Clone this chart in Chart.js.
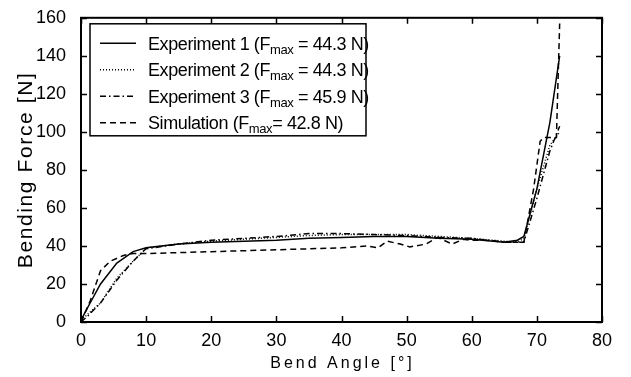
<!DOCTYPE html>
<html>
<head>
<meta charset="utf-8">
<script src="https://cdn.jsdelivr.net/npm/chart.js"></script>
<style>
  html, body { margin: 0; padding: 0; background: #fff; }
  #wrap { position: relative; width: 631px; height: 377px; }
</style>
</head>
<body>
<div id="wrap"><canvas id="myChart" width="631" height="377"></canvas></div>
<script>
// data
const exp1Angle = [0, 1.4, 3, 5.5, 8, 10, 15, 20, 25, 30, 35, 40, 45, 50, 55, 60, 65, 67, 68, 70, 72, 73.5];
const exp1Force = [1, 10, 20, 31, 37, 39, 41, 42, 42.5, 43, 44, 44.5, 45, 45, 44, 43.5, 42, 43, 45, 70, 105, 140];

const exp2Angle = [0, 1, 3, 5.5, 8, 9.5, 10, 15, 20, 30, 35, 40, 45, 50, 55, 60, 65, 67, 68, 70, 72, 73.5];
const exp2Force = [1, 4, 10, 23, 32, 37, 39, 41, 42.5, 44.5, 45.5, 46, 46, 46, 45, 44, 42.5, 42, 44, 70, 93, 100];

const exp3Angle = [0, 1, 3, 5.5, 8, 9.5, 10, 15, 20, 30, 35, 40, 45, 50, 55, 60, 65, 68, 70, 72, 73.5];
const exp3Force = [0, 3, 10, 22, 32, 37, 38.5, 41, 43, 45, 46.5, 46.5, 46, 45.5, 44.5, 44, 42, 42, 65, 90, 103];

const simAngle = [0, 1.4, 3, 4.5, 6.5, 8, 10, 15, 20, 25, 30, 35, 40, 44, 45.6, 47, 49, 50.5, 53, 54.7, 57, 58.7, 60, 62, 65, 68, 69.5, 70.5, 71, 73, 73.5];
const simForce = [0, 11, 27, 32, 35, 36, 36, 36.5, 37, 37.5, 38, 38.5, 39, 40, 39, 42.5, 41, 39.5, 41, 44.5, 41, 43.5, 43, 43, 42, 42, 70, 95, 97, 97, 157];

const xTicks = [0, 10, 20, 30, 40, 50, 60, 70, 80];
const yTicks = [0, 20, 40, 60, 80, 100, 120, 140, 160];

const legendItems = [
  { name: 'Experiment 1 (F', sub: 'max', rest: ' = 44.3 N)', dash: [] },
  { name: 'Experiment 2 (F', sub: 'max', rest: ' = 44.3 N)', dash: [1, 2] },
  { name: 'Experiment 3 (F', sub: 'max', rest: ' = 45.9 N)', dash: [6, 3, 1.5, 3] },
  { name: 'Simulation (F', sub: 'max', rest: '= 42.8 N)', dash: [6, 4] }
];

const xTitle = 'Bend Angle [°]';
const yTitle = 'Bending Force [N]';

const FONT = '"Liberation Sans", Arial, sans-serif';

function pts(xs, ys) {
  return xs.map((x, i) => ({ x: x, y: ys[i] }));
}

function mkSet(label, xs, ys, dash) {
  return {
    label: label,
    data: pts(xs, ys),
    borderColor: '#000',
    borderWidth: 1.5,
    borderDash: dash,
    pointRadius: 0,
    fill: false,
    tension: 0
  };
}

// box frame, inward ticks, axis titles and legend
const framePlugin = {
  id: 'frame',
  afterDatasetsDraw(chart) {
    const ctx = chart.ctx;
    const a = chart.chartArea;
    const xs = chart.scales.x, ys = chart.scales.y;
    ctx.save();
    ctx.strokeStyle = '#000';
    ctx.lineWidth = 2;
    ctx.setLineDash([]);
    ctx.strokeRect(a.left, a.top, a.right - a.left, a.bottom - a.top);
    ctx.lineWidth = 1.5;
    const tl = 6;
    ctx.beginPath();
    xTicks.forEach(v => {
      const px = Math.round(xs.getPixelForValue(v)) + 0.5;
      ctx.moveTo(px, a.bottom); ctx.lineTo(px, a.bottom - tl);
      ctx.moveTo(px, a.top); ctx.lineTo(px, a.top + tl);
    });
    yTicks.forEach(v => {
      const py = Math.round(ys.getPixelForValue(v)) + 0.5;
      ctx.moveTo(a.left, py); ctx.lineTo(a.left + tl, py);
      ctx.moveTo(a.right, py); ctx.lineTo(a.right - tl, py);
    });
    ctx.stroke();

    // axis titles (letter spaced)
    ctx.fillStyle = '#000';
    ctx.textAlign = 'center';
    ctx.textBaseline = 'alphabetic';
    ctx.font = '16px ' + FONT;
    ctx.letterSpacing = '3px';
    ctx.fillText(xTitle, (a.left + a.right) / 2 + 1, 368);
    ctx.save();
    ctx.translate(32, (a.top + a.bottom) / 2);
    ctx.rotate(-Math.PI / 2);
    ctx.font = '21px ' + FONT;
    ctx.letterSpacing = '1.6px';
    ctx.fillText(yTitle, 0, 0);
    ctx.restore();
    ctx.letterSpacing = '0px';
    ctx.textAlign = 'left';

    // legend
    const lx = a.left + 9, ly = a.top + 6, lw = 276, lh = 112;
    ctx.fillStyle = '#fff';
    ctx.fillRect(lx, ly, lw, lh);
    ctx.lineWidth = 1.5;
    ctx.strokeRect(lx, ly, lw, lh);
    ctx.fillStyle = '#000';
    legendItems.forEach((it, i) => {
      const cy = ly + 20 + i * 26.5;
      ctx.setLineDash(it.dash);
      ctx.lineWidth = 1.5;
      ctx.beginPath();
      ctx.moveTo(lx + 10, cy - 0.5);
      ctx.lineTo(lx + 46, cy - 0.5);
      ctx.stroke();
      ctx.setLineDash([]);
      let tx = lx + 58;
      const by = cy + 6;
      ctx.font = '18px ' + FONT;
      ctx.letterSpacing = '-0.4px';
      ctx.fillText(it.name, tx, by);
      tx += ctx.measureText(it.name).width;
      ctx.font = '13px ' + FONT;
      ctx.fillText(it.sub, tx, by + 4);
      tx += ctx.measureText(it.sub).width;
      ctx.font = '18px ' + FONT;
      ctx.fillText(it.rest, tx, by);
    });
    ctx.restore();
  }
};

const ctx = document.getElementById('myChart').getContext('2d');
new Chart(ctx, {
  type: 'line',
  data: {
    datasets: [
      mkSet('Experiment 1', exp1Angle, exp1Force, []),
      mkSet('Experiment 2', exp2Angle, exp2Force, [1, 2]),
      mkSet('Experiment 3', exp3Angle, exp3Force, [6, 3, 1.5, 3]),
      mkSet('Simulation', simAngle, simForce, [6, 4])
    ]
  },
  options: {
    responsive: false,
    animation: false,
    layout: { padding: { left: 0, right: 29, top: 14, bottom: 0 } },
    plugins: { legend: { display: false }, tooltip: { enabled: false } },
    scales: {
      x: {
        type: 'linear',
        min: 0, max: 80,
        afterBuildTicks: s => { s.ticks = xTicks.map(v => ({ value: v })); },
        afterFit: s => { s.height = 55; },
        grid: { display: false },
        border: { display: false },
        ticks: { color: '#000', font: { family: FONT, size: 18 }, padding: 0, maxRotation: 0 },
        title: { display: false }
      },
      y: {
        type: 'linear',
        min: 0, max: 160,
        afterBuildTicks: s => { s.ticks = yTicks.map(v => ({ value: v })); },
        afterFit: s => { s.width = 81; },
        grid: { display: false },
        border: { display: false },
        ticks: { color: '#000', font: { family: FONT, size: 18 }, padding: 7 },
        title: { display: false }
      }
    }
  },
  plugins: [framePlugin]
});
</script>
</body>
</html>
